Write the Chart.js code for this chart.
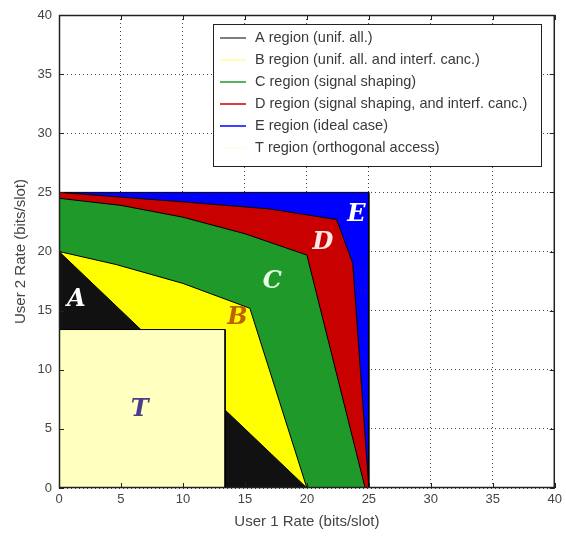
<!DOCTYPE html>
<html>
<head>
<meta charset="utf-8">
<script src="https://cdn.jsdelivr.net/npm/chart.js@4.4.0/dist/chart.umd.min.js"></script>
<style>
  html, body { margin: 0; padding: 0; background: #fff; }
  #wrap { width: 566px; height: 540px; position: relative; }
</style>
</head>
<body>
<div id="wrap"><canvas id="chart" width="566" height="540"></canvas></div>
<script>
// axis ticks
const xTicks = [0, 5, 10, 15, 20, 25, 30, 35, 40];
const yTicks = [0, 5, 10, 15, 20, 25, 30, 35, 40];

// region boundaries (user 1 rate, user 2 rate)
const regionA = [{ x: 0, y: 20 }, { x: 20, y: 0 }];
const regionB = [{ x: 0, y: 20 }, { x: 4.6, y: 18.9 }, { x: 10, y: 17.3 }, { x: 15.4, y: 15.2 }, { x: 20, y: 0 }];
const regionC = [{ x: 0, y: 24.5 }, { x: 5, y: 23.9 }, { x: 10, y: 22.9 }, { x: 15, y: 21.5 }, { x: 20, y: 19.7 }, { x: 24.7, y: 0 }];
const regionD = [{ x: 0, y: 25 }, { x: 2.5, y: 24.8 }, { x: 10, y: 24.2 }, { x: 17, y: 23.6 }, { x: 22.4, y: 22.7 }, { x: 23.7, y: 19 }, { x: 25, y: 0 }];
const regionE = [{ x: 0, y: 25 }, { x: 25, y: 25 }, { x: 25, y: 0 }];
const regionT = [{ x: 0, y: 13.4 }, { x: 13.4, y: 13.4 }, { x: 13.4, y: 0 }];

const regionNames = [
  "A region (unif. all.)",
  "B region (unif. all. and interf. canc.)",
  "C region (signal shaping)",
  "D region (signal shaping, and interf. canc.)",
  "E region (ideal case)",
  "T region (orthogonal access)"
];
const regionColors = ["#111111", "#ffff00", "#1f9a2a", "#c80000", "#0000ff", "#ffffc0"];
const legendLineColors = ["#555555", "#ffff99", "#1f9a2a", "#c80000", "#0000ff", "#ffffe0"];

// letters written inside the regions
const markLetters = ["A", "B", "C", "D", "E", "T"];
const markPos = [[1.4, 15.9], [14.4, 14.4], [17.2, 17.4], [21.3, 20.7], [24.0, 23.1], [6.5, 6.6]];
const markColors = ["#ffffff", "#c06000", "#e6ffe6", "#ffe8e8", "#ffffff", "#4b3c8c"];

const regions = [regionA, regionB, regionC, regionD, regionE, regionT];
// T on top, then A, B, C, D, E underneath
const drawOrder = [1, 2, 3, 4, 5, 0];

const datasets = regions.map((pts, i) => ({
  label: regionNames[i],
  data: pts,
  backgroundColor: regionColors[i],
  borderColor: "#000",
  borderWidth: 1,
  pointRadius: 0,
  tension: 0,
  fill: "origin",
  order: drawOrder[i]
}));

const overlay = {
  id: "overlay",
  afterDatasetsDraw(chart) {
    const { ctx, chartArea: a, scales } = chart;
    const sx = scales.x, sy = scales.y;
    ctx.save();

    // region letters
    ctx.font = 'italic bold 24px "DejaVu Serif"';
    ctx.textAlign = "center";
    ctx.textBaseline = "middle";
    markLetters.forEach((t, i) => {
      ctx.fillStyle = markColors[i];
      ctx.fillText(t, sx.getPixelForValue(markPos[i][0]), sy.getPixelForValue(markPos[i][1]));
    });

    // axes box
    ctx.strokeStyle = "#222";
    ctx.lineWidth = 1.5;
    ctx.strokeRect(a.left + 0.5, a.top + 0.5, a.right - a.left - 1, a.bottom - a.top - 1);

    // inward tick marks
    ctx.lineWidth = 1;
    ctx.beginPath();
    xTicks.forEach((v) => {
      const px = Math.round(sx.getPixelForValue(v)) + 0.5;
      ctx.moveTo(px, a.bottom); ctx.lineTo(px, a.bottom - 5);
      ctx.moveTo(px, a.top); ctx.lineTo(px, a.top + 5);
    });
    yTicks.forEach((v) => {
      const py = Math.round(sy.getPixelForValue(v)) + 0.5;
      ctx.moveTo(a.left, py); ctx.lineTo(a.left + 5, py);
      ctx.moveTo(a.right, py); ctx.lineTo(a.right - 5, py);
    });
    ctx.stroke();
    ctx.restore();
  },
  afterDraw(chart) {
    const ctx = chart.ctx;
    ctx.save();
    // legend box
    ctx.fillStyle = "#fff";
    ctx.fillRect(213, 24, 328, 142);
    ctx.strokeStyle = "#222";
    ctx.lineWidth = 1;
    ctx.strokeRect(213.5, 24.5, 328, 142);

    ctx.font = '14.5px "Liberation Sans"';
    ctx.textBaseline = "middle";
    ctx.textAlign = "left";
    regionNames.forEach((name, i) => {
      const yy = 38 + i * 22;
      ctx.strokeStyle = legendLineColors[i];
      ctx.lineWidth = 1.5;
      ctx.beginPath();
      ctx.moveTo(220, yy);
      ctx.lineTo(246, yy);
      ctx.stroke();
      ctx.fillStyle = "#3a3a3a";
      ctx.fillText(name, 255, yy);
    });
    ctx.restore();
  }
};

new Chart(document.getElementById("chart"), {
  type: "line",
  data: { datasets: datasets },
  options: {
    responsive: false,
    animation: false,
    devicePixelRatio: 1,
    layout: { padding: { top: 15, right: 11, left: 0, bottom: 0 } },
    plugins: {
      legend: { display: false },
      tooltip: { enabled: false }
    },
    scales: {
      x: {
        type: "linear",
        min: 0,
        max: 40,
        afterBuildTicks: (s) => { s.ticks = xTicks.map((v) => ({ value: v })); },
        afterFit: (s) => { s.height = 52; },
        ticks: { color: "#444", font: { family: "Liberation Sans", size: 13 }, padding: 4, maxRotation: 0 },
        grid: { color: "#444", drawTicks: false, lineWidth: 1 },
        border: { display: false, dash: [1, 3] },
        title: {
          display: true,
          text: "User 1 Rate (bits/slot)",
          color: "#444",
          font: { family: "Liberation Sans", size: 15 },
          padding: { top: 4, bottom: 9 }
        }
      },
      y: {
        type: "linear",
        min: 0,
        max: 40,
        afterBuildTicks: (s) => { s.ticks = yTicks.map((v) => ({ value: v })); },
        afterFit: (s) => { s.width = 59; },
        ticks: { color: "#444", font: { family: "Liberation Sans", size: 13 }, padding: 7 },
        grid: { color: "#444", drawTicks: false, lineWidth: 1 },
        border: { display: false, dash: [1, 3] },
        title: {
          display: true,
          text: "User 2 Rate (bits/slot)",
          color: "#444",
          font: { family: "Liberation Sans", size: 15 },
          padding: { top: 12, bottom: 4 }
        }
      }
    }
  },
  plugins: [overlay]
});
</script>
</body>
</html>
